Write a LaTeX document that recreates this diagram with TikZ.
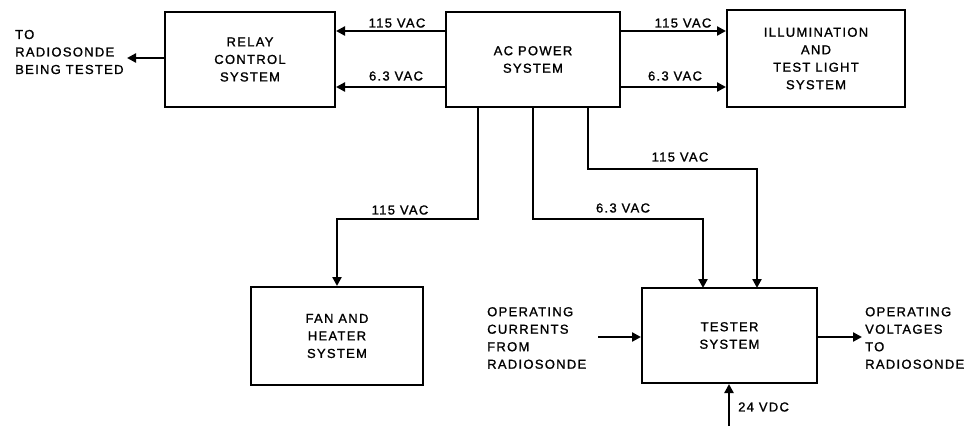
\documentclass[tikz,border=0pt]{standalone}
\usepackage{fontspec}
\setmainfont[LetterSpace=10,FakeBold=1.2]{Liberation Sans}
\usetikzlibrary{arrows.meta}
\begin{document}
\begin{tikzpicture}[x=1pt,y=-1pt,
  font=\fontsize{13}{17.5}\selectfont,
  box/.style={draw,line width=2pt,align=center,inner sep=0pt},
  wire/.style={line width=2.8pt,-{Triangle[length=9pt,width=9pt]}},
  lbl/.style={inner sep=0pt,align=center},
  side/.style={inner sep=0pt,align=left,anchor=west}]
\useasboundingbox (0,0) rectangle (968,426);
% boxes
\node[box,minimum width=170pt,minimum height=95pt] (relay) at (250,59.5) {RELAY\\CONTROL\\SYSTEM};
\node[box,minimum width=174pt,minimum height=95pt] (ac) at (533,59.5) {AC POWER\\SYSTEM};
\node[box,minimum width=178pt,minimum height=97pt] (illum) at (816,58.5) {ILLUMINATION\\AND\\TEST LIGHT\\SYSTEM};
\node[box,minimum width=172pt,minimum height=98pt] (fan) at (337,336) {FAN AND\\HEATER\\SYSTEM};
\node[box,minimum width=175pt,minimum height=95pt] (tester) at (729.5,335.5) {TESTER\\SYSTEM};
% side texts
\node[side] (totxt) at (15,52) {TO\\RADIOSONDE\\BEING TESTED};
\node[side] (intxt) at (487,338) {OPERATING\\CURRENTS\\FROM\\RADIOSONDE};
\node[side] (outtxt) at (865,338) {OPERATING\\VOLTAGES\\TO\\RADIOSONDE};
% coordinates
\coordinate (toend) at (127,58);
\coordinate (inbeg) at (598,337);
\coordinate (outend) at (862,337);
\coordinate (vdcbeg) at (729,426);
\coordinate (b1) at (478,219);
\coordinate (b2) at (533,219);
\coordinate (b3) at (588,169);
\coordinate (t1) at (703,288);
\coordinate (t2) at (757,288);
% top connectors
\draw[wire] ([yshift=-20pt]ac.north west) -- ([yshift=-20pt]ac.north west -| relay.east);
\draw[wire] ([yshift=21pt]ac.south west) -- ([yshift=21pt]ac.south west -| relay.east);
\draw[wire] ([yshift=-20pt]ac.north east) -- ([yshift=-20pt]ac.north east -| illum.west);
\draw[wire] ([yshift=21pt]ac.south east) -- ([yshift=21pt]ac.south east -| illum.west);
\draw[wire] (relay.west |- toend) -- (toend);
% branches
\draw[wire] (b1 |- ac.south) -- (b1) -| (fan.north);
\draw[wire] (b2 |- ac.south) -- (b2) -| (t1);
\draw[wire] (b3 |- ac.south) -- (b3) -| (t2);
% tester io
\draw[wire] (inbeg) -- (tester.west |- inbeg);
\draw[wire] (tester.east |- outend) -- (outend);
\draw[wire] (vdcbeg) -- (tester.south -| vdcbeg);
% labels
\node[lbl] (l1) at (397,23) {115 VAC};
\node[lbl] (l2) at (396,76) {6.3 VAC};
\node[lbl] (l3) at (683,23) {115 VAC};
\node[lbl] (l4) at (675,76) {6.3 VAC};
\node[lbl] (l5) at (400,210) {115 VAC};
\node[lbl] (l6) at (623,208) {6.3 VAC};
\node[lbl] (l7) at (680,157) {115 VAC};
\node[side] (l8) at (738,407) {24 VDC};
\end{tikzpicture}
\end{document}
